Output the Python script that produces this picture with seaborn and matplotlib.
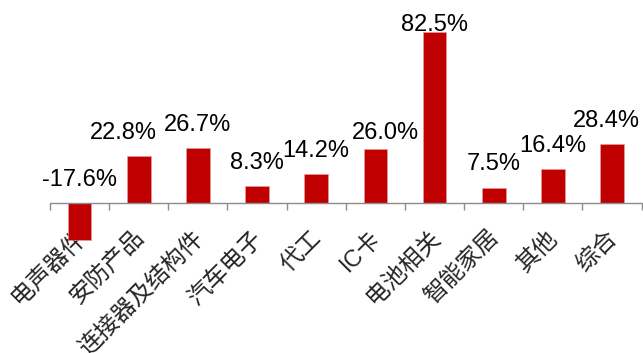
import matplotlib
matplotlib.use("Agg")
import matplotlib.pyplot as plt
import matplotlib.transforms as mtransforms
import seaborn as sns
import pandas as pd
import numpy as np

categories = ["电声器件", "安防产品", "连接器及结构件", "汽车电子", "代工",
              "IC卡", "电池相关", "智能家居", "其他", "综合"]
growth = [-17.6, 22.8, 26.7, 8.3, 14.2, 26.0, 82.5, 7.5, 16.4, 28.4]

sns.set_style("white")
plt.rcParams["font.family"] = ["Liberation Sans", "Noto Sans CJK SC", "DejaVu Sans"]

df = pd.DataFrame({"cat": categories, "val": growth})

fig = plt.figure(figsize=(6.43, 3.53), dpi=100)
ax = fig.add_axes([0.0778, 0.306, 0.920, 0.648])

sns.barplot(data=df, x="cat", y="val", color="#C00000", saturation=1,
            width=0.4, ax=ax, edgecolor="#E8A0A0", linewidth=0.4)

ax.set_xlim(-0.5, len(categories) - 0.5)
ax.set_ylim(-20, 90)
ax.set_xlabel("")
ax.set_ylabel("")
ax.set_yticks([])

for side in ["left", "right", "top"]:
    ax.spines[side].set_visible(False)
ax.spines["bottom"].set_position(("data", 0))
ax.spines["bottom"].set_color("#8C8C8C")
ax.spines["bottom"].set_linewidth(1.0)

# category labels at bar centres, tick marks at category boundaries
ax.set_xticks(np.arange(len(categories)))
ax.set_xticklabels(categories, rotation=45, ha="right", va="top",
                   rotation_mode="anchor", fontsize=17,
                   family=["Liberation Sans", "Noto Sans CJK SC"],
                   fontweight="light")
ax.tick_params(axis="x", which="major", length=0, pad=17, bottom=True)
ax.set_xticks(np.arange(len(categories) + 1) - 0.5, minor=True)
ax.tick_params(axis="x", which="minor", length=5, width=1.0, bottom=True,
               color="#8C8C8C", direction="out")
shift = mtransforms.ScaledTranslation(-4 / 72, 0, fig.dpi_scale_trans)
for lbl in ax.get_xticklabels():
    lbl.set_transform(lbl.get_transform() + shift)

# value labels: (dx, dy) nudges in points for crowded labels
nudges = {1: (-11, 0), 5: (7, -5), 6: (0, -12), 9: (-4, 0)}
for i, v in enumerate(growth):
    dx, dy = nudges.get(i, (0, 0))
    base = max(v, 0)
    ax.annotate(f"{v:.1f}%", xy=(i, base), xytext=(dx, 12.5 + dy),
                textcoords="offset points", ha="center", va="baseline",
                fontsize=17, color="black")

fig.savefig("out.png", dpi=100)
